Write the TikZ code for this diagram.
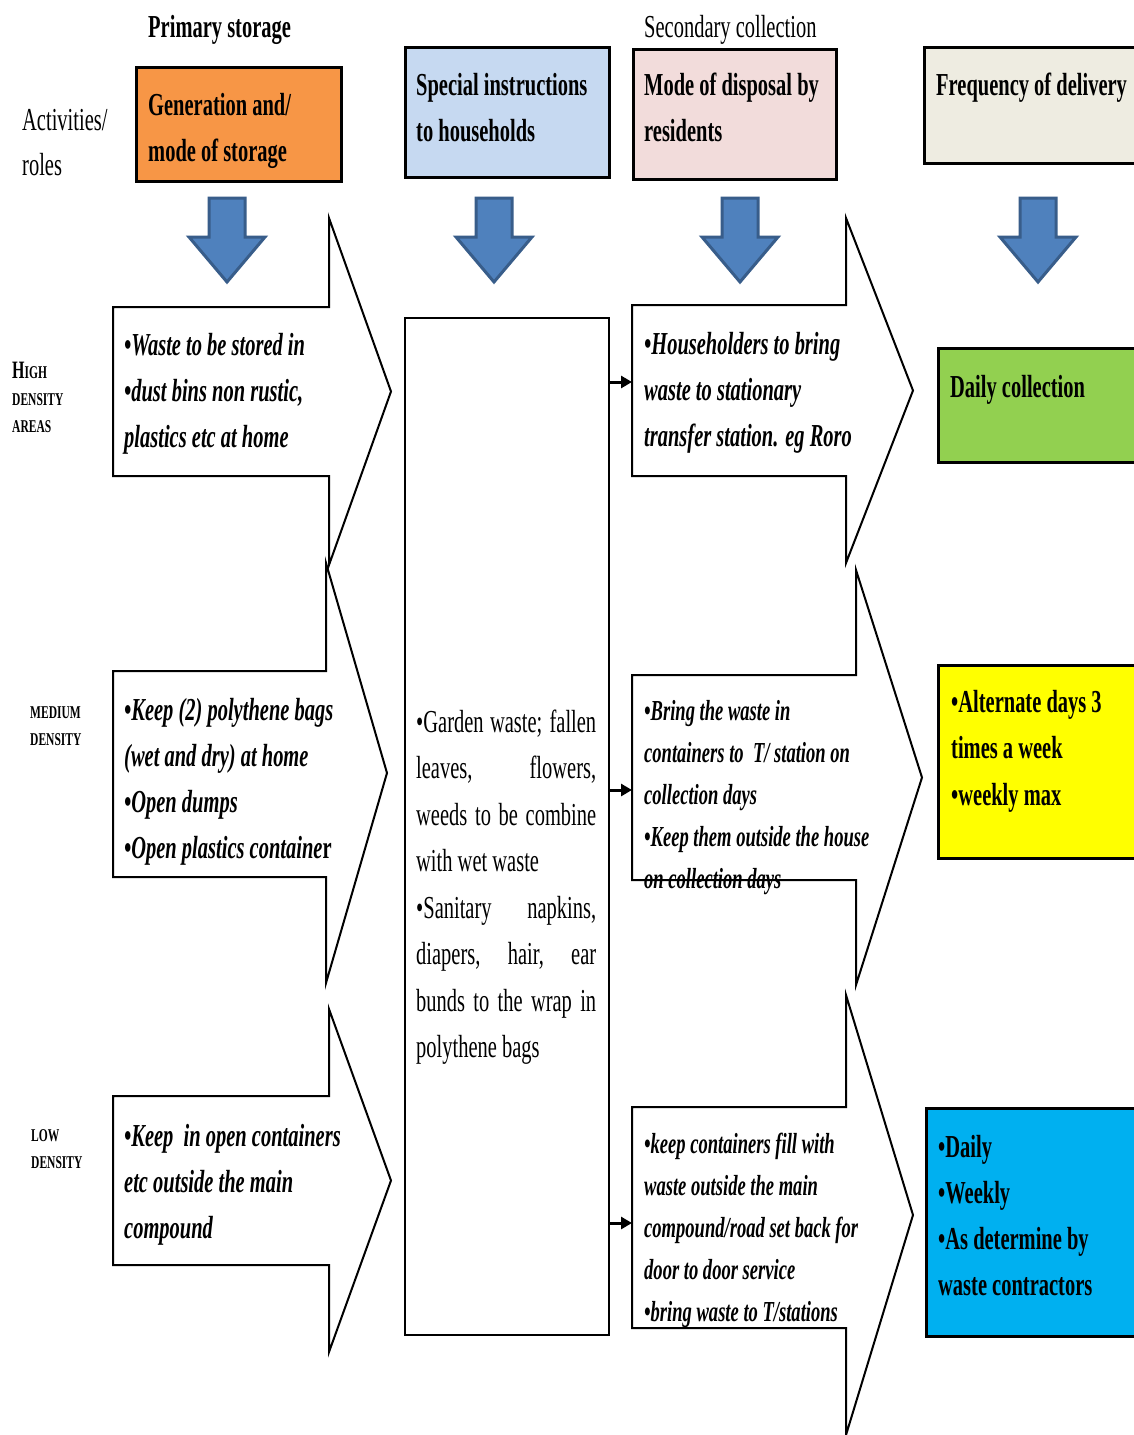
\documentclass[tikz,border=0pt]{standalone}
\usepackage{fontspec}
\setmainfont{Liberation Serif}[FakeStretch=0.64]
\usetikzlibrary{arrows.meta}

\definecolor{storeorange}{HTML}{F79646}
\definecolor{instrblue}{HTML}{C6D9F1}
\definecolor{disppink}{HTML}{F2DCDB}
\definecolor{freqbeige}{HTML}{EEECE1}
\definecolor{dailygreen}{HTML}{92D050}
\definecolor{altyellow}{HTML}{FFFF00}
\definecolor{lowcyan}{HTML}{00B0F0}
\definecolor{arrowfill}{HTML}{4F81BD}
\definecolor{arrowedge}{HTML}{385D8A}

\tikzset{
  headbox/.style={draw=black, line width=2.5pt, anchor=north west, inner sep=0pt},
  plain/.style={anchor=base west, inner sep=0pt, align=left, text width=300pt,
    font=\fontsize{32}{46.5}\selectfont, execute at begin node={\spaceskip=0pt\xspaceskip=0pt}},
  headtext/.style={plain, font=\fontsize{32}{46.5}\selectfont\bfseries},
  roletext/.style={plain, font=\fontsize{32}{46}\selectfont\bfseries\itshape},
  smalltext/.style={plain, font=\fontsize{29}{42}\selectfont\bfseries\itshape},
  density/.style={plain, text width=100pt, font=\fontsize{18}{27}\selectfont\bfseries},
  shapeline/.style={draw=black, line width=2pt, fill=white},
  bluearr/.style={fill=arrowfill, draw=arrowedge, line width=3pt},
  link/.style={line width=3pt, -{Triangle[length=11pt,width=12pt]}}
}

% outline of a block arrow: name, left x, top y, neck x, bottom y, head top y, head bottom y, tip x
\newcommand\blockarrow[8]{%
  \draw[shapeline] (#2,#3) -- (#4,#3) -- (#4,#6) -- (#8,{(#6+#7)/2}) -- (#4,#7) -- (#4,#5) -- (#2,#5) -- cycle;
  \coordinate (#1) at (#2,{(#3+#5)/2});
}
\newcommand\bluedown[1]{\draw[bluearr] (#1-18,198) -- (#1+18,198) -- (#1+18,237) -- (#1+38,237) -- (#1,282) -- (#1-38,237) -- (#1-18,237) -- cycle;}

\begin{document}
\begin{tikzpicture}[x=1pt,y=-1pt]
  \useasboundingbox[fill=white] (0,0) rectangle (1133,1435);
  %%%%% HEADERS %%%%%

  \node[headtext] (prim) at (148,37) {Primary storage};
  \node[plain] (sec) at (644,37) {Secondary collection};
  \node[plain] (roles) at (22,130) {Activities/\\[-1.5pt]roles};

  \node[headbox, fill=storeorange, minimum width=205pt, minimum height=114pt] (gen) at (135,66) {};
  \node[headbox, fill=instrblue, minimum width=204pt, minimum height=130pt] (instrhead) at (404,46) {};
  \node[headbox, fill=disppink, minimum width=203pt, minimum height=130pt] (disp) at (632,48) {};
  \node[headbox, fill=freqbeige, minimum width=220pt, minimum height=116pt] (freq) at (923,46) {};

  \node[headtext] (genT) at (148,115) {Generation and/\\mode of storage};
  \node[headtext] (instrheadT) at (416,95) {Special instructions\\to households};
  \node[headtext] (dispT) at (644,95) {Mode of disposal by\\residents};
  \node[headtext] (freqT) at (936,95) {Frequency of delivery};

  \foreach \cx in {227,494,740,1038} {\bluedown{\cx}}

  %%%%% DENSITY ROWS %%%%%

  \node[density] (high) at (12,378) {{\fontsize{25}{27}\selectfont H}IGH\\DENSITY\\AREAS};
  \node[density] (med) at (30,718) {MEDIUM\\DENSITY};
  \node[density] (low) at (31,1141) {LOW\\DENSITY};

  \blockarrow{lhi}{113}{307}{329}{476}{218}{565}{391}
  \blockarrow{lmed}{113}{671}{326}{877}{563}{983}{387}
  \blockarrow{llow}{113}{1096}{329}{1265}{1009}{1352}{391}

  \blockarrow{rhi}{632}{305}{846}{476}{218}{563}{913}
  \blockarrow{rmed}{632}{675}{856}{880}{570}{985}{922}
  \blockarrow{rlow}{632}{1107}{846}{1328}{995}{1435}{913}

  \node[roletext] (lhiT) at (124,355) {•Waste to be stored in\\•dust bins non rustic,\\plastics etc at home};
  \node[roletext] (lmedT) at (124,720) {•Keep (2) polythene bags\\(wet and dry) at home\\•Open dumps\\•Open plastics containe{\upshape r}};
  \node[roletext] (llowT) at (124,1146) {•Keep\ \ in open containers\\etc outside the main\\compound};

  \node[draw, line width=2pt, anchor=north west, inner sep=0pt, minimum width=204pt, minimum height=1017pt] (instr) at (404,317) {};
  \node[plain, text width=180pt, align=justify] (instrT) at (416,732)
    {•Garden waste; fallen\linebreak leaves, flowers,\linebreak weeds to be combine\linebreak with wet waste\par
     •Sanitary napkins,\linebreak diapers, hair, ear\linebreak bunds to the wrap in\linebreak polythene bags};

  \node[roletext] (rhiT) at (644,354) {•Householders to bring\\waste to stationary\\transfer station. eg Roro};
  \node[smalltext] (rmedT) at (644,720) {•Bring the waste in\\containers to\ \ T/ station on\\collection days\\•Keep them outside the house\\on collection days};
  \node[smalltext] (rlowT) at (644,1153) {•keep containers fill with\\waste outside the main\\compound/road set back for\\door to door service\\•bring waste to T/stations};

  \coordinate (hiIn) at (632,382);
  \coordinate (medIn) at (632,790);
  \coordinate (lowIn) at (632,1223);
  \draw[link] (instr.east |- hiIn) -- (hiIn);
  \draw[link] (instr.east |- medIn) -- (medIn);
  \draw[link] (instr.east |- lowIn) -- (lowIn);

  %%%%% FREQUENCY %%%%%

  \node[headbox, fill=dailygreen, minimum width=210pt, minimum height=114pt] (daily) at (937,347) {};
  \node[headbox, fill=altyellow, minimum width=210pt, minimum height=193pt] (alt) at (937,664) {};
  \node[headbox, fill=lowcyan, minimum width=222pt, minimum height=228pt] (asdet) at (925,1107) {};

  \node[headtext] (dailyT) at (950,397) {Daily collection};
  \node[headtext] (altT) at (951,712) {•Alternate days 3\\times a week\\•weekly max};
  \node[headtext, font=\fontsize{32}{46}\selectfont\bfseries] (asdetT) at (938,1157) {•Daily\\•Weekly\\•As determine by\\waste contractors};
\end{tikzpicture}
\end{document}
